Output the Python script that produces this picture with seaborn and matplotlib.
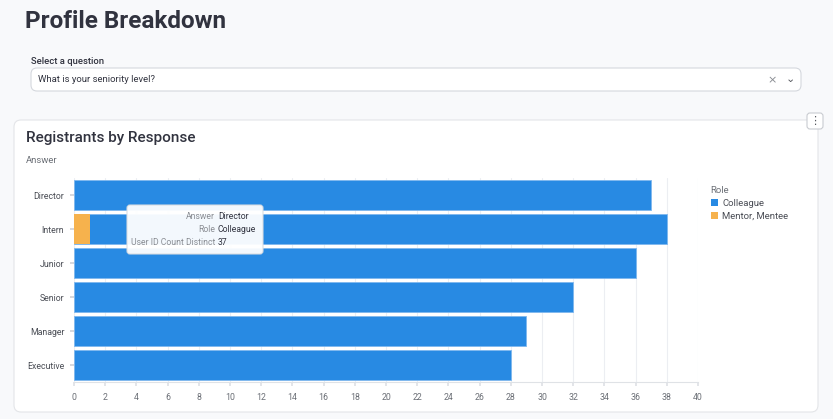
import matplotlib

matplotlib.use("Agg")

import matplotlib.pyplot as plt
import pandas as pd
import seaborn as sns
from matplotlib.patches import FancyBboxPatch, Patch


# values
answers = ["Director", "Intern", "Junior", "Senior", "Manager", "Executive"]
colleague_counts = [37, 37, 36, 32, 29, 28]
mentor_counts = [0, 1, 0, 0, 0, 0]
roles = ["Colleague", "Mentor, Mentee"]
x_ticks = list(range(0, 41, 2))

BLUE = "#288ae3"
ORANGE = "#f6b24d"
PAGE_BG = "#f8f9fb"
TEXT_DARK = "#31333f"
TEXT_GRAY = "#6b6f76"

W, H = 833, 419


def pixel_axes(fig, zorder):
	ax = fig.add_axes([0, 0, 1, 1], zorder=zorder)
	ax.set_xlim(0, W)
	ax.set_ylim(H, 0)
	ax.axis("off")
	ax.patch.set_alpha(0)
	return ax


def rounded_box(ax, x0, y0, x1, y1, radius, face, edge, lw=0.8, alpha=1.0):
	box = FancyBboxPatch(
		(x0, y0), x1 - x0, y1 - y0,
		boxstyle=f"round,pad=0,rounding_size={radius}",
		facecolor=face, edgecolor=edge, linewidth=lw, alpha=alpha,
	)
	ax.add_patch(box)


def main():
	sns.set_theme(style="white")
	plt.rcParams["font.family"] = ["Roboto", "DejaVu Sans"]

	df = pd.DataFrame({
		"answer": answers,
		"colleague": colleague_counts,
		"mentor": mentor_counts,
	})
	df["total"] = df["colleague"] + df["mentor"]

	fig = plt.figure(figsize=(W / 100, H / 100), dpi=100, facecolor=PAGE_BG)

	# page furniture: title, question select, card
	bg = pixel_axes(fig, 0)
	bg.text(25, 22, "Profile Breakdown", fontsize=17.5, color=TEXT_DARK,
		va="center", ha="left", fontweight="bold")
	bg.text(31, 61, "Select a question", fontsize=6.8, color=TEXT_DARK, va="center",
		fontweight="medium")
	rounded_box(bg, 31, 68, 801, 91, 6, "white", "#d5d8de")
	bg.text(38, 80, "What is your seniority level?", fontsize=6.8, color=TEXT_DARK, va="center")
	bg.text(772, 80, "\u00d7", fontsize=8, color="#8a8d93", va="center", ha="center",
		family="DejaVu Sans")
	bg.text(790, 79, "\u2304", fontsize=8, color="#55585e", va="center", ha="center",
		family="DejaVu Sans")

	rounded_box(bg, 14, 120, 818, 412, 7, "white", "#e3e5e8")
	rounded_box(bg, 807, 113, 823, 129, 3, "white", "#c9ccd1")
	bg.text(815, 121, "\u22ee", fontsize=8, color="#55585e", va="center", ha="center",
		family="DejaVu Sans")

	bg.text(26, 138, "Registrants by Response", fontsize=11, color=TEXT_DARK,
		va="center", fontweight="medium")
	bg.text(26, 160, "Answer", fontsize=6.8, color=TEXT_GRAY, va="center")

	# chart axes
	ax = fig.add_axes([74 / W, 1 - 382 / H, (698 - 74) / W, 204 / H], zorder=2)
	ax.set_facecolor("none")
	sns.barplot(data=df, y="answer", x="total", order=answers, color=BLUE,
		width=0.9, saturation=1, edgecolor="#7fb8ee", linewidth=0.6, ax=ax, zorder=3)
	sns.barplot(data=df, y="answer", x="mentor", order=answers, color=ORANGE,
		width=0.9, saturation=1, linewidth=0, ax=ax, zorder=4)

	ax.set_xlim(0, 40)
	ax.set_ylim(5.5, -0.5)
	ax.set_xticks(x_ticks)
	ax.set_xlabel("")
	ax.set_ylabel("")
	ax.grid(axis="x", color="#eceef2", linewidth=0.8, zorder=0)
	ax.set_axisbelow(True)
	for side in ["top", "right", "left"]:
		ax.spines[side].set_visible(False)
	ax.spines["bottom"].set_color("#dfe2e6")
	ax.spines["bottom"].set_linewidth(0.8)
	ax.tick_params(axis="x", length=3, color="#dfe2e6", labelsize=6.3,
		labelcolor=TEXT_GRAY, pad=5, bottom=True)
	ax.tick_params(axis="y", length=3, color="#d0d3d8", labelsize=6.3,
		labelcolor="#4a4d55", pad=4, left=True)

	# legend
	handles = [Patch(facecolor=BLUE, edgecolor="none"), Patch(facecolor=ORANGE, edgecolor="none")]
	leg = fig.legend(handles, roles, title="Role", loc="upper left",
		bbox_to_anchor=(702 / W, 1 - 177 / H), frameon=False, fontsize=6.8,
		title_fontsize=6.8, handlelength=0.75, handleheight=0.75,
		handletextpad=0.5, labelspacing=0.45, alignment="left")
	leg.get_title().set_color(TEXT_GRAY)
	for t in leg.get_texts():
		t.set_color("#4a4d55")

	# hover tooltip
	top = pixel_axes(fig, 10)
	rounded_box(top, 127, 205, 263, 254, 3, "white", "#d9dce1", alpha=0.95)
	rows = [("Answer", "Director"), ("Role", "Colleague"), ("User ID Count Distinct", "37")]
	for i, (label, value) in enumerate(rows):
		y = 216 + i * 13
		top.text(215, y, label, fontsize=6.2, color="#8a8d93", ha="right", va="center")
		top.text(218, y, value, fontsize=6.2, color=TEXT_DARK, ha="left", va="center")

	fig.savefig("out.png", dpi=100, facecolor=PAGE_BG)
	plt.close(fig)


if __name__ == "__main__":
	main()
